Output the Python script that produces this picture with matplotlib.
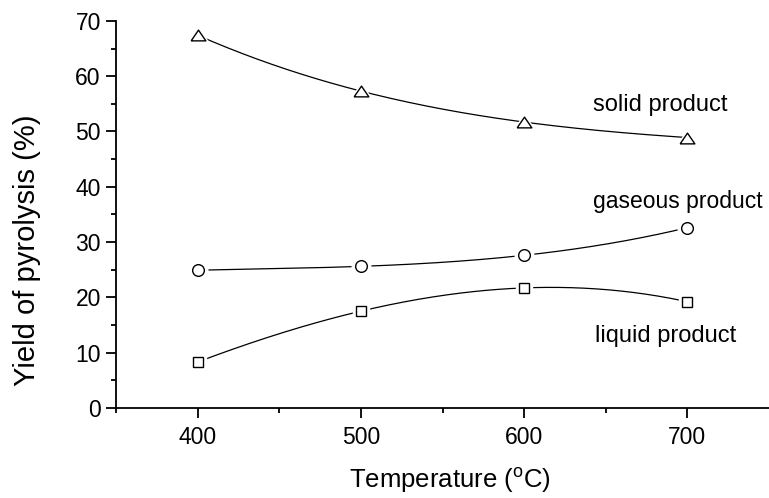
import numpy as np
import matplotlib
matplotlib.use("Agg")
import matplotlib.pyplot as plt

plt.rcParams['font.family'] = ['Liberation Sans', 'DejaVu Sans']
plt.rcParams['mathtext.fontset'] = 'custom'
plt.rcParams['mathtext.rm'] = 'Liberation Sans'

# data
temperature = [400, 500, 600, 700]
solid = [67.4, 57.3, 51.7, 48.9]
gaseous = [24.9, 25.6, 27.6, 32.6]
liquid = [8.3, 17.5, 21.7, 19.2]

# wide, flat open triangle like the original
tri = [(-1, -0.73), (1, -0.73), (0, 0.73), (-1, -0.73)]

series = [
    (solid, tri, 10.6, 'solid product', 642, 53.7, 17),
    (gaseous, 'o', 8.4, 'gaseous product', 642, 36.1, 16.5),
    (liquid, 's', 6.8, 'liquid product', 643.5, 11.9, 17),
]

fig = plt.figure(figsize=(7.69, 4.98), dpi=100)
ax = fig.add_axes([0.151, 0.181, 0.849, 0.777])

xs = np.linspace(temperature[0], temperature[-1], 200)
for vals, mk, ms, label, lx, ly, fs in series:
    coef = np.polyfit(temperature, vals, 3)
    ax.plot(xs, np.polyval(coef, xs), color='black', lw=0.9, zorder=1)
    # white halo leaves a small gap between line and marker
    ax.plot(temperature, vals, linestyle='none', marker=mk, ms=ms + 5,
            mfc='white', mec='white', zorder=2)
    ax.plot(temperature, vals, linestyle='none', marker=mk, ms=ms,
            mfc='white', mec='black', mew=1.0, zorder=3)
    ax.text(lx, ly, label, fontsize=fs, va='baseline', ha='left')

ax.set_xlim(350, 750)
ax.set_ylim(0, 70)
ax.set_xticks([400, 500, 600, 700])
ax.set_xticks([350, 450, 550, 650], minor=True)
ax.set_yticks(range(0, 71, 10))
ax.set_yticks(range(5, 70, 10), minor=True)

for s in ['top', 'right']:
    ax.spines[s].set_visible(False)
for s in ['left', 'bottom']:
    ax.spines[s].set_linewidth(1.3)

ax.tick_params(which='major', direction='out', length=7, width=1.3,
               labelsize=16.5, pad=4)
ax.tick_params(which='minor', direction='out', length=3.5, width=1.3)
ax.tick_params(axis='x', which='major', pad=6)

fig.text(450 / 769, 1 - 480 / 498, r'Temperature ($^\mathrm{o}$C)',
         fontsize=18.5, ha='center', va='center')
fig.text(27 / 769, 1 - 250 / 498, 'Yield of pyrolysis (%)',
         fontsize=21, rotation=90, ha='center', va='center')

fig.savefig('out.png', dpi=100)
